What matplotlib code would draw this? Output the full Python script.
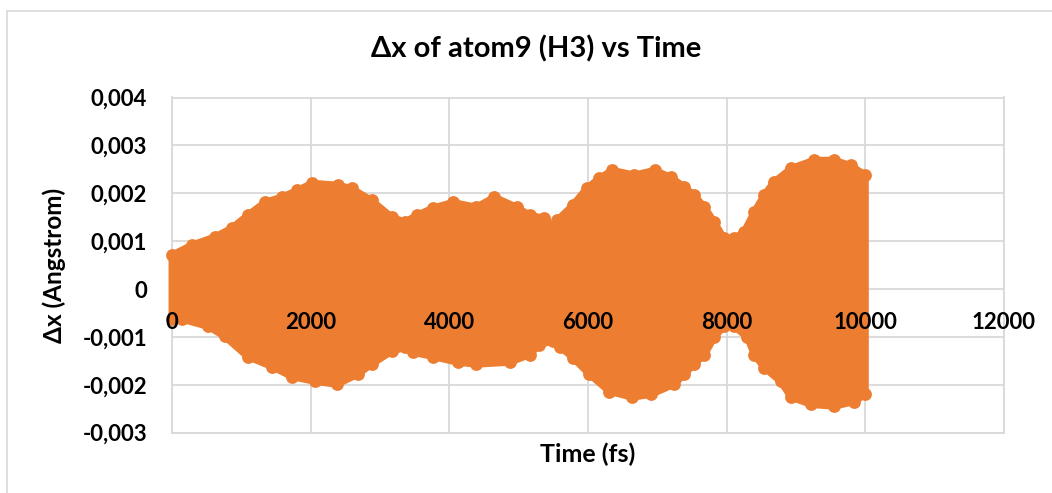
import matplotlib
matplotlib.use("Agg")
import matplotlib.pyplot as plt
from matplotlib.lines import Line2D
from matplotlib.transforms import offset_copy

# Upper and lower envelope of the H3 x-displacement trace (Angstrom)
upper_time = [0, 290, 620, 860, 1090, 1340, 1580, 1810, 2020, 2390, 2590, 2880,
              3170, 3360, 3530, 3760, 4050, 4390, 4650, 4970, 5160, 5370, 5490,
              5560, 5780, 5980, 6160, 6350, 6670, 6960, 7200, 7390, 7530, 7680,
              7820, 7960, 8110, 8250, 8400, 8540, 8680, 8930, 9260, 9550, 9790,
              10000]
upper_dx = [0.00071, 0.00092, 0.00109, 0.00127, 0.00154, 0.00181, 0.00192,
            0.00206, 0.00221, 0.00217, 0.00210, 0.00185, 0.00150, 0.00140,
            0.00154, 0.00169, 0.00181, 0.00171, 0.00192, 0.00171, 0.00154,
            0.00148, 0.00129, 0.00144, 0.00175, 0.00210, 0.00231, 0.00248,
            0.00238, 0.00248, 0.00233, 0.00213, 0.00196, 0.00171, 0.00140,
            0.00106, 0.00106, 0.00119, 0.00161, 0.00196, 0.00223, 0.00252,
            0.00269, 0.00269, 0.00258, 0.00238]

lower_time = [0, 140, 520, 760, 1090, 1440, 1730, 2060, 2380, 2680, 2880, 3170,
              3360, 3470, 3760, 4120, 4390, 4870, 5160, 5300, 5490, 5590, 5780,
              6020, 6310, 6640, 6910, 7240, 7390, 7530, 7680, 7820, 7960, 8110,
              8300, 8400, 8540, 8780, 8930, 9220, 9550, 9840, 10000]
lower_dx = [-0.00063, -0.00063, -0.00078, -0.00099, -0.00141, -0.00162,
            -0.00183, -0.00193, -0.00199, -0.00178, -0.00157, -0.00130,
            -0.00122, -0.00132, -0.00141, -0.00153, -0.00157, -0.00153,
            -0.00137, -0.00116, -0.00109, -0.00120, -0.00143, -0.00178,
            -0.00214, -0.00226, -0.00220, -0.00199, -0.00178, -0.00157,
            -0.00137, -0.00101, -0.00078, -0.00078, -0.00101, -0.00137,
            -0.00164, -0.00193, -0.00226, -0.00241, -0.00245, -0.00235,
            -0.00220]

x_ticks = [0, 2000, 4000, 6000, 8000, 10000, 12000]
x_tick_labels = ["0", "2000", "4000", "6000", "8000", "10000", "12000"]
y_ticks = [-0.003, -0.002, -0.001, 0.0, 0.001, 0.002, 0.003, 0.004]
y_tick_labels = ["-0,003", "-0,002", "-0,001", "0", "0,001", "0,002", "0,003", "0,004"]

ORANGE = "#ED7D31"
GRID = "#D9D9D9"
FONT = ["Lato", "DejaVu Sans"]

W, H = 1052, 493
fig = plt.figure(figsize=(W / 100, H / 100), dpi=100)
fig.patch.set_facecolor("white")

# chart frame
fig.add_artist(Line2D([7 / W, 7 / W], [0, 1 - 11 / H], transform=fig.transFigure,
                      color=GRID, lw=1.2))
fig.add_artist(Line2D([7 / W, 1], [1 - 11 / H, 1 - 11 / H], transform=fig.transFigure,
                      color=GRID, lw=1.2))

left, right, top, bottom = 172, 1004, 97.5, 432.7
ax = fig.add_axes([left / W, 1 - bottom / H, (right - left) / W, (bottom - top) / H])
ax.set_xlim(0, 12000)
ax.set_ylim(-0.003, 0.004)
ax.set_xticks(x_ticks)
ax.set_yticks(y_ticks)
ax.set_xticklabels([])
ax.set_yticklabels(y_tick_labels, fontfamily=FONT, fontweight="bold", fontsize=16)
ax.tick_params(length=0)
ax.tick_params(axis="y", pad=18)
ax.grid(True, color=GRID, lw=1.3)
ax.set_axisbelow(True)
for s in ax.spines.values():
    s.set_color(GRID)
    s.set_linewidth(1.3)
    s.set_zorder(0.6)

# dense scatter cloud drawn as its filled envelope with round marker edges
poly_t = upper_time + lower_time[::-1]
poly_v = upper_dx + lower_dx[::-1]
ax.fill(poly_t, poly_v, facecolor=ORANGE, edgecolor=ORANGE, linewidth=5.0,
        joinstyle="round", zorder=2, clip_on=False)
ax.scatter(upper_time, upper_dx, s=85, color=ORANGE, linewidths=0, zorder=3, clip_on=False)
ax.scatter(lower_time, lower_dx, s=85, color=ORANGE, linewidths=0, zorder=3, clip_on=False)

# x tick labels sit just under the y = 0 crossing, above the data
lab_tr = offset_copy(ax.transData, fig=fig, x=0, y=-33, units="dots")
for t, lab in zip(x_ticks, x_tick_labels):
    ax.text(t, 0, lab, transform=lab_tr, ha="center", va="center",
            fontfamily=FONT, fontweight="bold", fontsize=16, color="black", zorder=5)

fig.text(536.5 / W, 1 - 49 / H, "Δx of atom9 (H3) vs Time", ha="center", va="center",
         fontfamily=FONT, fontweight="bold", fontsize=21, color="black")
fig.text(587.5 / W, 1 - 454 / H, "Time (fs)", ha="center", va="center",
         fontfamily=FONT, fontweight="bold", fontsize=18, color="black")
fig.text(54 / W, 1 - 265 / H, "Δx (Angstrom)", ha="center", va="center", rotation=90,
         fontfamily=FONT, fontweight="bold", fontsize=17.5, color="black")

fig.savefig("out.png", dpi=100)
